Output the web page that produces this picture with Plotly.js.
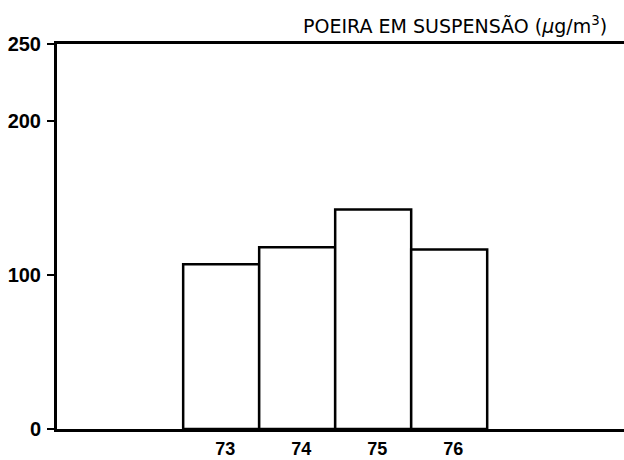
<!DOCTYPE html>
<html>
<head>
<meta charset="utf-8">
<script src="https://cdn.plot.ly/plotly-3.0.1.min.js"></script>
<style>html,body{margin:0;padding:0;background:#fff;}</style>
</head>
<body>
<div id="chart" style="width:624px;height:460px;"></div>
<script>
const years = [73, 74, 75, 76];
const poeira = [107, 118, 142.5, 116.5];
const yTicks = [0, 100, 200, 250];
const titleText = "POEIRA EM SUSPENSÃO (<i>μ</i>g/m<sup>3</sup>)";

const trace = {
  type: 'bar',
  x: years,
  y: poeira,
  width: 1,
  marker: {color: '#ffffff', line: {color: '#000000', width: 2.5}},
  hoverinfo: 'skip'
};

const layout = {
  width: 624, height: 460,
  margin: {l: 57, r: 0, t: 44, b: 31},
  paper_bgcolor: '#ffffff', plot_bgcolor: '#ffffff',
  showlegend: false,
  font: {family: 'Liberation Sans, Arial, sans-serif', color: '#000', size: 14},
  xaxis: {
    range: [70.84, 78.3],
    tickvals: years,
    ticktext: years.map(String),
    ticks: '', showgrid: false, zeroline: false,
    showline: true, linecolor: '#000', linewidth: 3, mirror: true,
    tickfont: {size: 18, family: 'Liberation Sans, Arial, sans-serif', weight: 'bold', color: '#000'},
    ticklabelstandoff: 1,
    ticklabelshift: 4
  },
  yaxis: {
    range: [0, 250],
    tickvals: yTicks,
    ticktext: yTicks.map(String),
    ticks: 'outside', ticklen: 7, tickwidth: 2, tickcolor: '#000',
    showgrid: false, zeroline: false,
    showline: true, linecolor: '#000', linewidth: 3,
    tickfont: {size: 20, family: 'Liberation Sans, Arial, sans-serif', weight: 'bold', color: '#000'},
    ticklabelstandoff: 2
  },
  annotations: [{
    xref: 'paper', yref: 'paper',
    x: 0.973, y: 1, yshift: 19,
    xanchor: 'right', yanchor: 'middle',
    showarrow: false,
    text: titleText,
    font: {size: 19, family: 'DejaVu Sans, sans-serif', color: '#000'}
  }]
};

Plotly.newPlot('chart', [trace], layout, {displayModeBar: false, staticPlot: true});
</script>
</body>
</html>
